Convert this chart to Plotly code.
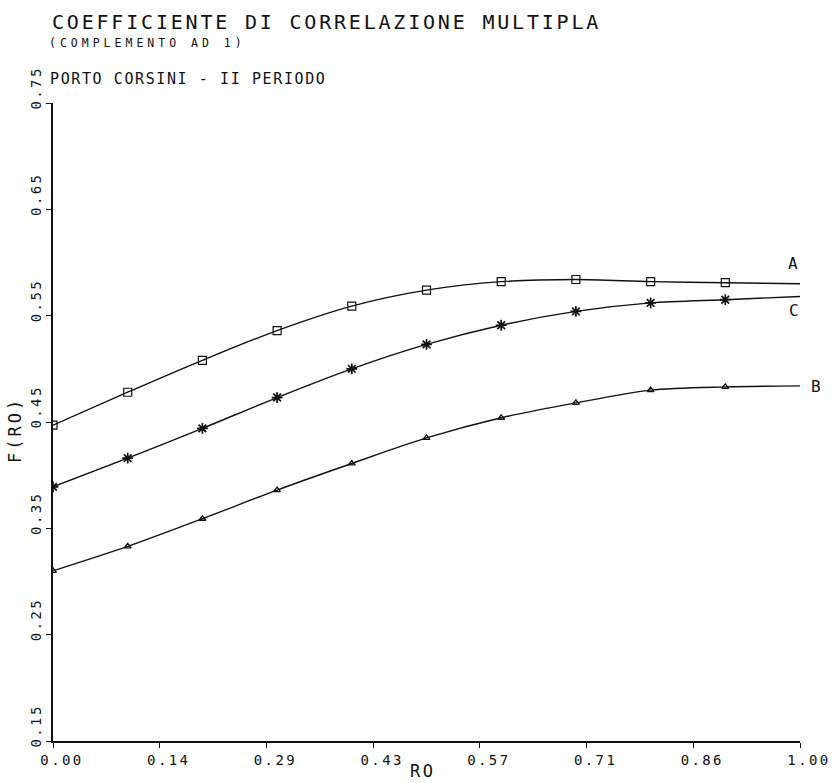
import plotly.graph_objects as go

# Correlation-coefficient complement vs RO for three cases
ro = [0.0, 0.1, 0.2, 0.3, 0.4, 0.5, 0.6, 0.7, 0.8, 0.9, 1.0]
f_a = [0.447, 0.478, 0.508, 0.536, 0.559, 0.574, 0.582, 0.584, 0.582, 0.581, 0.580]
f_c = [0.389, 0.416, 0.444, 0.473, 0.500, 0.523, 0.541, 0.554, 0.562, 0.565, 0.568]
f_b = [0.310, 0.333, 0.359, 0.386, 0.411, 0.435, 0.454, 0.468, 0.480, 0.483, 0.484]

x_tick_vals = [0, 1 / 7, 2 / 7, 3 / 7, 4 / 7, 5 / 7, 6 / 7, 1]
x_tick_text = ["0.00", "0.14", "0.29", "0.43", "0.57", "0.71", "0.86", "1.00"]
y_tick_vals = [0.15, 0.25, 0.35, 0.45, 0.55, 0.65, 0.75]
y_tick_text = ["0.15", "0.25", "0.35", "0.45", "0.55", "0.65", "0.75"]

FONT = "DejaVu Sans Mono"
INK = "#111111"


def spaced(text, px):
    """Wrap text in a span with extra letter spacing (plotter-style lettering)."""
    return f'<span style="letter-spacing:{px}px">{text}</span>'


series = [
    ("A", f_a, "square-open", 8, 1.2, -7, 20),
    ("C", f_c, "asterisk-open", 9, 1.7, -6, -14),
    ("B", f_b, "triangle-up-open", 6, 1.3, 16, -1),
]

fig = go.Figure()
annotations = []
for name, vals, symbol, size, lw, dx, dy in series:
    # smooth curve over the whole range
    fig.add_trace(go.Scatter(
        x=ro, y=vals, mode="lines", name=name,
        line=dict(color=INK, width=1.4, shape="spline", smoothing=0.8),
        hoverinfo="skip",
    ))
    # symbols at the computed points (last point is curve end only)
    fig.add_trace(go.Scatter(
        x=ro[:-1], y=vals[:-1], mode="markers", name=name,
        marker=dict(symbol=symbol, size=size, color=INK,
                    line=dict(color=INK, width=lw)),
    ))
    annotations.append(dict(
        x=ro[-1], y=vals[-1], xref="x", yref="y", text=name,
        showarrow=False, xshift=dx, yshift=dy,
        font=dict(family=FONT, size=16, color=INK),
    ))

# titles
annotations += [
    dict(x=-0.0044, y=1.1264, xref="paper", yref="paper", xanchor="left", yanchor="middle",
         text=spaced("COEFFICIENTE DI CORRELAZIONE MULTIPLA", 2.8), showarrow=False,
         font=dict(family=FONT, size=20, color=INK)),
    dict(x=-0.008, y=1.0935, xref="paper", yref="paper", xanchor="left", yanchor="middle",
         text=spaced("(COMPLEMENTO AD 1)", 4.0), showarrow=False,
         font=dict(family=FONT, size=11.5, color=INK)),
    dict(x=-0.007, y=1.0371, xref="paper", yref="paper", xanchor="left", yanchor="middle",
         text=spaced("PORTO CORSINI - II PERIODO", 1.6), showarrow=False,
         font=dict(family=FONT, size=15, color=INK)),
    dict(x=0.495, y=-0.047, xref="paper", yref="paper", xanchor="center", yanchor="middle",
         text=spaced("RO", 2.5), showarrow=False,
         font=dict(family=FONT, size=17, color=INK)),
    dict(x=-0.05, y=0.487, xref="paper", yref="paper", xanchor="center", yanchor="middle",
         text=spaced("F(RO)", 3), textangle=-90, showarrow=False,
         font=dict(family=FONT, size=17, color=INK)),
]

fig.update_layout(
    width=833, height=783,
    margin=dict(l=53, r=33, t=103, b=42),
    paper_bgcolor="white", plot_bgcolor="white",
    showlegend=False,
    annotations=annotations,
    xaxis=dict(
        range=[0, 1], tickvals=x_tick_vals,
        ticktext=[spaced(t, 2.4) for t in x_tick_text],
        showline=True, linecolor=INK, linewidth=1.6, ticks="outside",
        ticklen=5, tickwidth=1, tickcolor=INK, showgrid=False, zeroline=False,
        ticklabelshift=9, automargin=False,
        tickfont=dict(family=FONT, size=14, color=INK),
    ),
    yaxis=dict(
        range=[0.15, 0.75], tickvals=y_tick_vals,
        ticktext=[spaced(t, 2.4) for t in y_tick_text],
        showline=True, linecolor=INK, linewidth=1.6, ticks="outside",
        ticklen=5, tickwidth=1, tickcolor=INK, showgrid=False, zeroline=False,
        ticklabelshift=-13, automargin=False,
        tickangle=-90, tickfont=dict(family=FONT, size=14, color=INK),
    ),
)

fig.write_html("out.html")
